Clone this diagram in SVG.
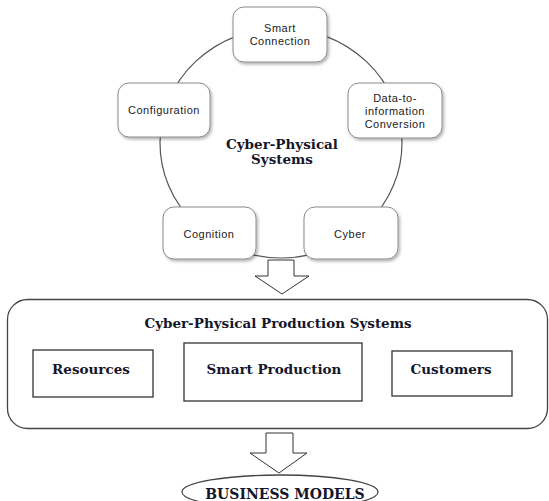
<svg xmlns="http://www.w3.org/2000/svg" width="549" height="501" viewBox="0 0 549 501">
  <defs>
    <filter id="shadow" x="-20%" y="-20%" width="150%" height="150%">
      <feDropShadow dx="1.5" dy="2" stdDeviation="1.6" flood-color="#000" flood-opacity="0.3"/>
    </filter>
  </defs>
  <style>
    .ring { fill: none; stroke: #555; stroke-width: 1.2; }
    .stage { fill: #fff; stroke: #8a8a8a; stroke-width: 1; filter: url(#shadow); }
    .lbl { font-family: "Liberation Sans", Arial, sans-serif; font-size: 11px; letter-spacing: 0.5px; fill: #222; text-anchor: middle; }
    .title { font-family: "DejaVu Serif", "Liberation Serif", serif; font-weight: bold; font-size: 13.5px; fill: #16162a; text-anchor: middle; }
    .box { fill: #fff; stroke: #333; stroke-width: 1.3; }
    .frame { fill: #fff; stroke: #444; stroke-width: 1.3; }
    .flow { fill: #fff; stroke: #333; stroke-width: 1; stroke-linejoin: miter; }
  </style>

  <rect width="549" height="501" fill="#fff"/>

  <!-- connectors: the CPS cycle ring and the hollow flow arrows -->
  <g id="connectors">
    <ellipse class="ring" cx="281" cy="143" rx="121" ry="115"/>
    <polygon class="flow" points="268,260 294,260 294,276 309,276 282,294 255,276 268,276"/>
    <polygon class="flow" points="266,433 293,433 293,453 307,453 279,473 250,453 266,453"/>
  </g>

  <!-- 5C cycle stages -->
  <g id="cps-title">
    <text class="title" x="282" y="149">Cyber-Physical</text>
    <text class="title" x="282" y="164">Systems</text>
  </g>
  <g id="smart-connection">
    <rect class="stage" x="233" y="7" width="94" height="55" rx="11"/>
    <text class="lbl" x="280" y="32">Smart</text>
    <text class="lbl" x="280" y="45">Connection</text>
  </g>
  <g id="data-to-information">
    <rect class="stage" x="348" y="83" width="94" height="55" rx="11"/>
    <text class="lbl" x="395" y="102">Data-to-</text>
    <text class="lbl" x="395" y="115">information</text>
    <text class="lbl" x="395" y="128">Conversion</text>
  </g>
  <g id="configuration">
    <rect class="stage" x="118" y="83" width="92" height="54" rx="11"/>
    <text class="lbl" x="164" y="114">Configuration</text>
  </g>
  <g id="cognition">
    <rect class="stage" x="163" y="207" width="93" height="52" rx="11"/>
    <text class="lbl" x="209" y="238">Cognition</text>
  </g>
  <g id="cyber">
    <rect class="stage" x="304" y="207" width="94" height="52" rx="11"/>
    <text class="lbl" x="350" y="238">Cyber</text>
  </g>

  <!-- production systems layer -->
  <g id="cpps">
    <rect class="frame" x="7.5" y="299.5" width="540" height="129" rx="20"/>
    <text class="title" x="278" y="328">Cyber-Physical Production Systems</text>
  </g>
  <g id="resources">
    <rect class="box" x="33" y="350" width="120" height="47"/>
    <text class="title" x="91" y="374">Resources</text>
  </g>
  <g id="smart-production">
    <rect class="box" x="184" y="343" width="178" height="58"/>
    <text class="title" x="274" y="374">Smart Production</text>
  </g>
  <g id="customers">
    <rect class="box" x="392" y="351" width="120" height="45"/>
    <text class="title" x="451" y="374">Customers</text>
  </g>

  <g id="business-models">
    <ellipse class="frame" cx="280" cy="492" rx="98" ry="17"/>
    <text class="title" x="285" y="499" style="font-size:14px">BUSINESS MODELS</text>
  </g>
</svg>
